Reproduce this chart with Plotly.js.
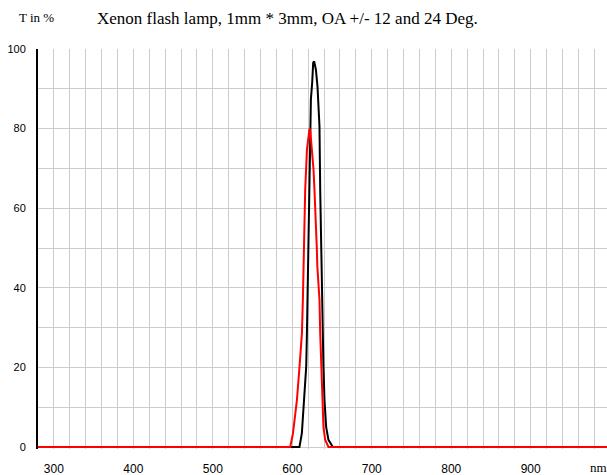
<!DOCTYPE html>
<html>
<head>
<meta charset="utf-8">
<script src="https://cdn.plot.ly/plotly-3.0.1.min.js"></script>
<style>html,body{margin:0;padding:0;background:#fff;}#chart{width:607px;height:475px;}</style>
</head>
<body>
<div id="chart"></div>
<script>
// Wavelength (nm) and transmission (%)
const blackWl = [280, 600, 609, 612, 614.5, 617.5, 618.4, 619.1, 619.6, 620.4, 621.6, 622.5, 622.5, 623.4, 625, 626.3, 627.5, 629.7, 631.7, 634.2, 635.1, 635.5, 636, 637.2, 637.6, 638.5, 639.2, 640.5, 642.6, 645.5, 651, 1000];
const blackT  = [0,   0,   0,   3.4, 11.8,  20.2,  28.6,  37,    45.4,  53.8,  62,    74.6,  79.6,  87.4,  91.5, 96.6, 96.9,  94.8,  90.6,  80.6,  64.6,  59.6,  53.8, 45.4,  37,    28.6,  20.2,  11.8,  5,     1.8,   0,   0];
const redWl = [280, 597.4, 600.8, 605.8, 609.1, 612.1, 613.3, 614.1, 615.5, 616.2, 618.4, 621.6, 622.5, 625.0, 626.7, 627.9, 629.2, 630.1, 630.9, 631.5, 634.2, 635.1, 636.3, 637.9, 639.2, 641.4, 645.5, 1000];
const redT  = [0,   0,     3.4,   11.8,  20.2,  28.6,  37,    45.4,  58,    64.5,  74.6,  80,    79.7,  74.6,  69.7,  64.6,  59.6,  54.6,  49.6,  45.4,  37,    28.6,  20.2,  11.8,  5,     1.8,   0,     0];

const xGrid = [280,300,320,340,360,380,400,420,440,460,480,500,520,540,560,580,600,620,640,660,680,700,720,740,760,780,800,820,840,860,880,900,920,940,960,980];
const xLabels = xGrid.map(v => (v % 100 === 0 ? String(v) : ""));
const yGrid = [0,10,20,30,40,50,60,70,80,90,100];
const yLabels = yGrid.map(v => (v % 20 === 0 ? String(v) : ""));

const titleText = "Xenon flash lamp, 1mm * 3mm, OA +/- 12 and 24 Deg.";
const yUnit = "T in %";
const xUnit = "nm";

const traces = [
  {x: blackWl, y: blackT, type: "scatter", mode: "lines", line: {color: "#000000", width: 2}, hoverinfo: "skip"},
  {x: redWl, y: redT, type: "scatter", mode: "lines", line: {color: "#ff0000", width: 2}, hoverinfo: "skip"}
];

const layout = {
  width: 607, height: 475,
  margin: {l: 38, r: 0, t: 49, b: 26, pad: 0},
  paper_bgcolor: "#ffffff", plot_bgcolor: "#ffffff",
  showlegend: false,
  title: {text: titleText, font: {family: "Liberation Serif", size: 17, color: "#000"},
          x: 97/607, xanchor: "left", xref: "container", y: 1 - 18/475, yanchor: "middle", yref: "container"},
  xaxis: {range: [280, 996], tickmode: "array", tickvals: xGrid, ticktext: xLabels,
          showgrid: true, gridcolor: "#cccccc", gridwidth: 1, zeroline: false, showline: false,
          ticks: "", ticklabelstandoff: 11,
          tickfont: {family: "Liberation Sans", size: 12, color: "#000"}},
  yaxis: {range: [-0.5, 100], tickmode: "array", tickvals: yGrid, ticktext: yLabels,
          showgrid: true, gridcolor: "#cccccc", gridwidth: 1, zeroline: false,
          showline: true, linecolor: "#000000", linewidth: 2,
          ticks: "", ticklabelstandoff: 8,
          tickfont: {family: "Liberation Sans", size: 11, color: "#000"}},
  annotations: [
    {text: yUnit, xref: "paper", yref: "paper", x: (17-38)/569, y: (447-18)/398, xanchor: "left", yanchor: "middle",
     showarrow: false, font: {family: "Liberation Serif", size: 13, color: "#000"}},
    {text: xUnit, xref: "paper", yref: "paper", x: (588-38)/569, y: (447-465)/398, xanchor: "left", yanchor: "middle",
     showarrow: false, font: {family: "Liberation Serif", size: 13, color: "#000"}}
  ]
};

Plotly.newPlot("chart", traces, layout, {displayModeBar: false, staticPlot: true});
</script>
</body>
</html>
